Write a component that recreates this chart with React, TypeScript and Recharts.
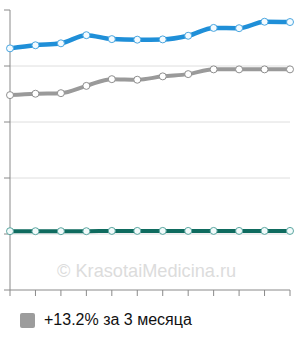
import { LineChart, Line, XAxis, YAxis, CartesianGrid } from "recharts";

const months = ["1", "2", "3", "4", "5", "6", "7", "8", "9", "10", "11", "12"];
const blueValues = [86.3, 87.4, 88.1, 91.0, 89.6, 89.4, 89.5, 90.8, 93.6, 93.5, 95.8, 95.7];
const grayValues = [69.6, 70.1, 70.3, 72.9, 75.3, 75.1, 76.3, 77.1, 78.8, 78.8, 78.8, 78.8];
const tealValues = [21, 21, 21, 21, 21.1, 21.1, 21.1, 21.1, 21.1, 21.1, 21.1, 21.1];
const yTicks = [0, 20, 40, 60, 80, 100];
const gridValues = [20, 40, 60, 80];
const legendLabel = "+13.2% за 3 месяца";
const watermark = "© KrasotaiMedicina.ru";

const data = months.map((m, i) => ({
  month: m,
  blue: blueValues[i],
  gray: grayValues[i],
  teal: tealValues[i],
}));

export default function App() {
  return (
    <div
      style={{
        position: "absolute",
        left: 0,
        top: 0,
        width: 300,
        height: 340,
        background: "#fff",
        fontFamily: "'Liberation Sans', Arial, sans-serif",
      }}
    >
      <LineChart width={300} height={300} data={data} margin={{ top: 10, right: 10, bottom: 9, left: 9 }}>
        <CartesianGrid vertical={false} horizontalValues={gridValues} stroke="#dedede" />
        <XAxis
          dataKey="month"
          height={1}
          stroke="#8a8a8a"
          tickSize={6}
          interval={0}
          tickFormatter={() => ""}
        />
        <YAxis
          width={1}
          domain={[0, 100]}
          ticks={yTicks}
          stroke="#8a8a8a"
          tickSize={6}
          tickFormatter={() => ""}
        />
        <Line
          type="monotone"
          dataKey="teal"
          stroke="#0f6b5f"
          strokeWidth={4}
          dot={{ r: 3.5, fill: "#f2fbfb", stroke: "#5aa6a0", strokeWidth: 1 }}
          isAnimationActive={false}
        />
        <Line
          type="monotone"
          dataKey="gray"
          stroke="#9a9a9a"
          strokeWidth={4}
          dot={{ r: 3.5, fill: "#fff", stroke: "#8f8f8f", strokeWidth: 1 }}
          isAnimationActive={false}
        />
        <Line
          type="monotone"
          dataKey="blue"
          stroke="#1f8fd8"
          strokeWidth={4.5}
          dot={{ r: 3.5, fill: "#f4fbff", stroke: "#4aa6e0", strokeWidth: 1 }}
          isAnimationActive={false}
        />
      </LineChart>
      <div
        style={{
          position: "absolute",
          left: 57,
          top: 261,
          fontSize: 18.2,
          color: "#dcdcdc",
          whiteSpace: "nowrap",
        }}
      >
        {watermark}
      </div>
      <div style={{ position: "absolute", left: 20, top: 311, display: "flex", alignItems: "center" }}>
        <div style={{ width: 15, height: 15, background: "#9c9c9c", borderRadius: 2 }} />
        <span style={{ marginLeft: 9, fontSize: 16, color: "#111", whiteSpace: "nowrap" }}>{legendLabel}</span>
      </div>
    </div>
  );
}
